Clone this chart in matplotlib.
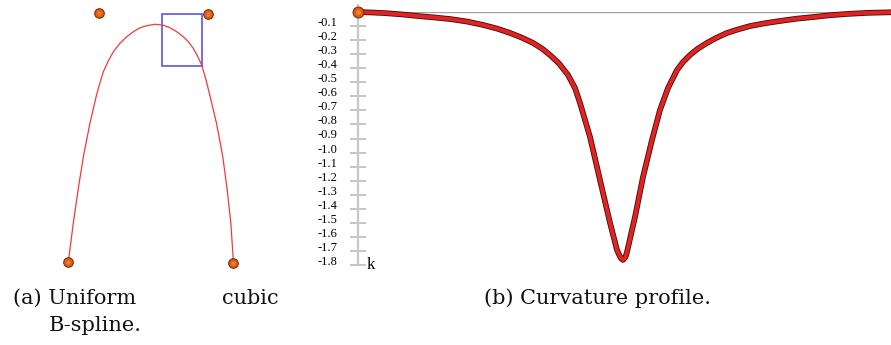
import matplotlib
matplotlib.use("Agg")
import matplotlib.pyplot as plt
from matplotlib.patches import Rectangle

# --- (a) cubic B-spline: control points, sampled curve, zoom window ---
ctrl_x = [0.002, 0.188, 0.848, 1.002]
ctrl_y = [0.007, 1.003, 0.999, 0.003]

curve_x = [0.003, 0.006, 0.032, 0.061, 0.093, 0.133, 0.174, 0.193, 0.214,
           0.244, 0.275, 0.315, 0.356, 0.396, 0.436, 0.477, 0.527, 0.578,
           0.618, 0.659, 0.699, 0.729, 0.759, 0.784, 0.810, 0.836, 0.858,
           0.900, 0.938, 0.965, 0.987, 0.999, 1.002]
curve_y = [0.012, 0.029, 0.163, 0.296, 0.429, 0.563, 0.679, 0.723, 0.769,
           0.812, 0.849, 0.883, 0.909, 0.929, 0.945, 0.953, 0.959, 0.955,
           0.945, 0.929, 0.909, 0.889, 0.863, 0.833, 0.796, 0.738, 0.679,
           0.563, 0.429, 0.296, 0.163, 0.043, 0.008]

window = (0.570, 0.792, 0.242, 0.208)   # x0, y0, width, height

# --- (b) curvature profile along the parameter ---
param = [0.0, 0.0225, 0.0469, 0.0788, 0.1107, 0.1407, 0.1726, 0.2045,
         0.2345, 0.2608, 0.2852, 0.3077, 0.3283, 0.3452, 0.3602, 0.3771,
         0.3940, 0.4071, 0.4165, 0.4353, 0.4540, 0.4728, 0.4859, 0.4897,
         0.4934, 0.4972, 0.5019, 0.5047, 0.5197, 0.5347, 0.5516, 0.5666,
         0.5816, 0.5985, 0.6098, 0.6229, 0.6379, 0.6548, 0.6717, 0.6923,
         0.7129, 0.7355, 0.7636, 0.7917, 0.8218, 0.8537, 0.8856, 0.9174,
         0.9568, 1.0]
kappa = [0.000, -0.003, -0.007, -0.016, -0.028, -0.038, -0.050, -0.068,
         -0.092, -0.118, -0.149, -0.183, -0.220, -0.260, -0.306, -0.366,
         -0.448, -0.541, -0.647, -0.889, -1.195, -1.500, -1.693, -1.725,
         -1.753, -1.764, -1.743, -1.707, -1.458, -1.174, -0.910, -0.697,
         -0.541, -0.413, -0.356, -0.306, -0.260, -0.220, -0.185, -0.149,
         -0.124, -0.100, -0.080, -0.064, -0.048, -0.036, -0.023, -0.014,
         -0.006, -0.002]

k_ticks = [-0.1, -0.2, -0.3, -0.4, -0.5, -0.6, -0.7, -0.8, -0.9, -1.0,
           -1.1, -1.2, -1.3, -1.4, -1.5, -1.6, -1.7, -1.8]
k_labels = ["-0.1", "-0.2", "-0.3", "-0.4", "-0.5", "-0.6", "-0.7", "-0.8",
            "-0.9", "-1.0", "-1.1", "-1.2", "-1.3", "-1.4", "-1.5", "-1.6",
            "-1.7", "-1.8"]

W, H = 891, 345
fig = plt.figure(figsize=(W / 100, H / 100), dpi=100)
fig.patch.set_facecolor("white")

BALL = "#e05a12"
BALL_EDGE = "#6e2800"
BALL_LIGHT = "#f58a40"

# ---------------- panel (a) ----------------
axa = fig.add_axes([68 / W, (H - 264) / H, 165 / W, 250 / H])
axa.set_xlim(0, 1)
axa.set_ylim(0, 1)
axa.axis("off")
axa.plot(curve_x, curve_y, color="#f23a3a", lw=0.9, clip_on=False,
         solid_capstyle="round", solid_joinstyle="round")
axa.add_patch(Rectangle((window[0], window[1]), window[2], window[3],
                        fill=False, edgecolor="#5656dc", lw=1.2,
                        clip_on=False))
axa.scatter(ctrl_x, ctrl_y, s=48, color=BALL, edgecolors=BALL_EDGE,
            linewidths=0.7, zorder=5, clip_on=False)
axa.scatter(ctrl_x, ctrl_y, s=10, color=BALL_LIGHT, linewidths=0,
            zorder=6, clip_on=False, alpha=0.7)

# ---------------- panel (b) ----------------
axb = fig.add_axes([358 / W, (H - 265) / H, (W - 358) / W, 253 / H])
axb.set_xlim(0, 1)
axb.set_ylim(-1.8, 0)
for side in ("top", "right", "bottom"):
    axb.spines[side].set_visible(False)
axb.spines["left"].set_color("#c8c8c8")
axb.spines["left"].set_linewidth(1.6)
axb.spines["left"].set_bounds(-1.8, 0.05)
axb.set_xticks([])
axb.set_yticks(k_ticks)
axb.set_yticklabels(k_labels, family="Liberation Serif", fontsize=9)
axb.tick_params(axis="y", direction="inout", length=12, width=1.3,
                color="#c0c0c0", pad=9)
for lab in axb.get_yticklabels():
    lab.set_verticalalignment("baseline")

axb.axhline(0, color="#a0a0a0", lw=1.0, zorder=1)
axb.plot(param, kappa, color="#3a0c0c", lw=4.1, clip_on=False, zorder=3,
         solid_capstyle="round", solid_joinstyle="round")
axb.plot(param, kappa, color="#e32222", lw=2.9, clip_on=False, zorder=4,
         solid_capstyle="round", solid_joinstyle="round")
axb.scatter([param[0]], [kappa[0]], s=62, color=BALL, edgecolors=BALL_EDGE,
            linewidths=0.7, zorder=6, clip_on=False)
axb.scatter([param[0]], [kappa[0]], s=14, color=BALL_LIGHT, linewidths=0,
            zorder=7, clip_on=False, alpha=0.7)
axb.text(0.016, -1.8, "k", family="Liberation Serif", fontsize=12,
         ha="left", va="center")

# ---------------- captions ----------------
cap = dict(family="DejaVu Serif", fontsize=15, va="baseline", color="#111111")
fig.text(13 / W, 1 - 304 / H, "(a) Uniform", ha="left", **cap)
fig.text(279 / W, 1 - 304 / H, "cubic", ha="right", **cap)
fig.text(49 / W, 1 - 331 / H, "B-spline.", ha="left", **cap)
fig.text(598 / W, 1 - 304 / H, "(b) Curvature profile.", ha="center", **cap)

fig.savefig("out.png", dpi=100, facecolor="white")
